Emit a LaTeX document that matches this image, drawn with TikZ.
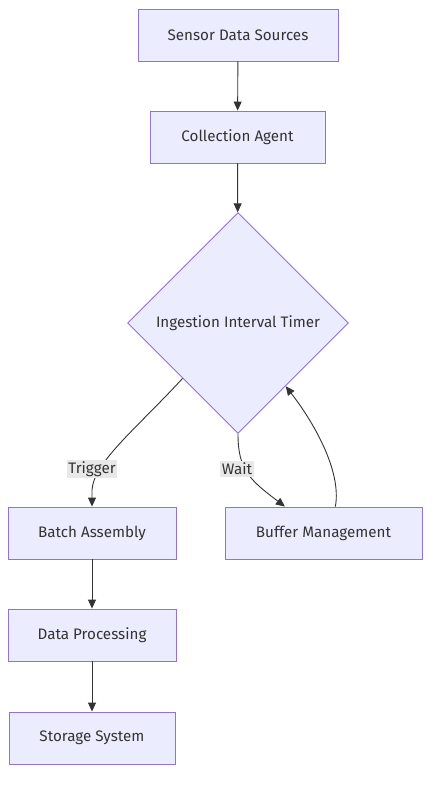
\documentclass[tikz,border=0pt]{standalone}
\usepackage{fontspec}
\setmainfont{Fira Sans}
\usetikzlibrary{shapes.geometric,arrows.meta,calc}
\definecolor{nodefill}{HTML}{ECECFF}
\definecolor{nodeline}{HTML}{9370DB}
\definecolor{edgecol}{HTML}{333333}
\definecolor{lblfill}{HTML}{E8E8E8}
\tikzset{
  box/.style={draw=nodeline, fill=nodefill, line width=0.9pt, minimum height=52pt, inner sep=0pt, font=\fontsize{15.2}{18}\selectfont, text=edgecol},
  dia/.style={draw=nodeline, fill=nodefill, line width=0.9pt, diamond, minimum width=221pt, minimum height=221pt, inner sep=0pt, font=\fontsize{15.2}{18}\selectfont, text=edgecol},
  conn/.style={draw=edgecol, line width=0.9pt, -{Triangle[length=9pt,width=8pt]}},
  lbl/.style={fill=lblfill, inner sep=1.5pt, font=\fontsize{15.2}{18}\selectfont, text=edgecol}
}
\begin{document}
\begin{tikzpicture}[x=1pt,y=-1pt]
\useasboundingbox (0,0) rectangle (438,785);
\node[box, minimum width=200pt] (src) at (238,35) {Sensor Data Sources};
\node[box, minimum width=175pt] (agent) at (237.5,137) {Collection Agent};
\node[dia] (timer) at (238,323) {Ingestion Interval Timer};
\node[box, minimum width=168pt] (batch) at (92,533) {Batch Assembly};
\node[box, minimum width=197pt] (buffer) at (323.5,533) {Buffer Management};
\node[box, minimum width=168pt] (proc) at (92,635) {Data Processing};
\node[box, minimum width=166pt] (store) at (92,738) {Storage System};

\draw[conn] (src) -- (agent);
\draw[conn] (agent) -- (timer);
\draw[conn] (batch) -- (proc);
\draw[conn] (proc) -- (store);

\coordinate (bwin) at ($(buffer.north west)!0.305!(buffer.north east)$);
\coordinate (bwout) at ($(buffer.north west)!0.56!(buffer.north east)$);
\coordinate (tback) at ($(timer.south)!0.43!(timer.east)$);

\draw[conn] (timer.south west) .. controls (135,430) and (94,462) .. (92,490) -- (batch.north);
\node[lbl] (trig) at (92,469) {Trigger};
\draw[conn] (timer.south) .. controls (238,470) and (250,480) .. (bwin);
\node[lbl] (wait) at (237,469) {Wait};
\draw[conn] (bwout) .. controls (342,470) and (312,420) .. (tback);
\end{tikzpicture}
\end{document}
